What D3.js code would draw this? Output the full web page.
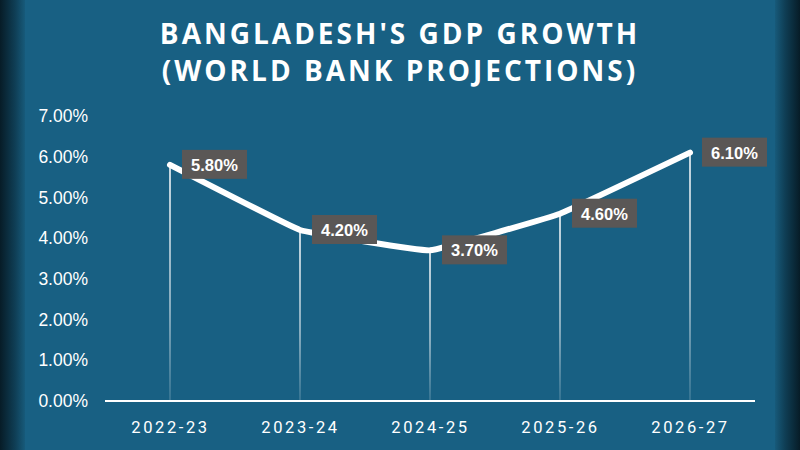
<!DOCTYPE html>
<html>
<head>
<meta charset="utf-8">
<script src="https://cdn.jsdelivr.net/npm/d3@7"></script>
<style>
  html, body { margin: 0; padding: 0; background: #186083; }
  svg { display: block; }
</style>
</head>
<body>
<svg id="chart" width="800" height="450"></svg>
<script>
const categories = ["2022-23", "2023-24", "2024-25", "2025-26", "2026-27"];
const growth = [5.8, 4.2, 3.7, 4.6, 6.1];
const yTicks = [0, 1, 2, 3, 4, 5, 6, 7];
const titleLines = ["BANGLADESH'S GDP GROWTH", "(WORLD BANK PROJECTIONS)"];

const W = 800, H = 450;
const svg = d3.select("#chart");
const defs = svg.append("defs");

// background with dark edges
const edgeL = defs.append("linearGradient").attr("id", "edgeL").attr("x1", 0).attr("x2", 1);
edgeL.append("stop").attr("offset", "0%").attr("stop-color", "#071c27");
edgeL.append("stop").attr("offset", "60%").attr("stop-color", "#0f3e55");
edgeL.append("stop").attr("offset", "100%").attr("stop-color", "#175a7a");
const edgeR = defs.append("linearGradient").attr("id", "edgeR").attr("x1", 1).attr("x2", 0);
edgeR.append("stop").attr("offset", "0%").attr("stop-color", "#071c27");
edgeR.append("stop").attr("offset", "60%").attr("stop-color", "#0f3e55");
edgeR.append("stop").attr("offset", "100%").attr("stop-color", "#175a7a");

svg.append("rect").attr("width", W).attr("height", H).attr("fill", "#186083");
svg.append("rect").attr("x", 0).attr("y", 0).attr("width", 25).attr("height", H).attr("fill", "url(#edgeL)");
svg.append("rect").attr("x", 775).attr("y", 0).attr("width", 25).attr("height", H).attr("fill", "url(#edgeR)");

// drop line gradient
const dropG = defs.append("linearGradient").attr("id", "dropG")
  .attr("gradientUnits", "objectBoundingBox").attr("x1", 0).attr("x2", 0).attr("y1", 0).attr("y2", 1);
dropG.append("stop").attr("offset", "0%").attr("stop-color", "#ffffff").attr("stop-opacity", 0.95);
dropG.append("stop").attr("offset", "60%").attr("stop-color", "#ffffff").attr("stop-opacity", 0.6);
dropG.append("stop").attr("offset", "100%").attr("stop-color", "#ffffff").attr("stop-opacity", 0.15);

// title
svg.append("g").selectAll("text").data(titleLines).join("text")
  .attr("x", 400).attr("y", (d, i) => 44 + i * 37)
  .attr("text-anchor", "middle")
  .attr("fill", "#ffffff")
  .style("font-family", "'Open Sans', 'DejaVu Sans', sans-serif")
  .style("font-weight", 700)
  .style("font-size", "28px")
  .style("letter-spacing", "3px")
  .text(d => d);

const x = d3.scalePoint().domain(categories).range([170, 690]);
const y = d3.scaleLinear().domain([0, 7]).range([401, 116]);

// y axis labels
const yAxis = d3.axisLeft(y).tickValues(yTicks).tickFormat(d => d3.format(".2f")(d) + "%").tickSize(0).tickPadding(0);
const yg = svg.append("g").attr("transform", "translate(88,0)").call(yAxis);
yg.select(".domain").remove();
yg.selectAll("text")
  .attr("fill", "#ffffff")
  .style("font-family", "'Liberation Sans', Arial, sans-serif")
  .style("font-size", "17.5px");

// x axis
const xAxis = d3.axisBottom(x).tickSize(0).tickPadding(0);
const xg = svg.append("g").attr("transform", "translate(0,401)").call(xAxis);
xg.select(".domain").remove();
xg.selectAll("text")
  .attr("fill", "#ffffff")
  .attr("dy", "0")
  .attr("y", 32)
  .style("font-family", "Roboto, 'Liberation Sans', sans-serif")
  .style("font-weight", 400)
  .style("font-size", "16.5px")
  .style("letter-spacing", "2.6px");

// drop lines
svg.append("g").selectAll("rect").data(growth).join("rect")
  .attr("x", (d, i) => x(categories[i]) - 0.8)
  .attr("y", d => y(d))
  .attr("width", 1.6)
  .attr("height", d => y(0) - y(d))
  .attr("fill", "url(#dropG)");

// baseline
svg.append("line")
  .attr("x1", 105).attr("x2", 755)
  .attr("y1", y(0)).attr("y2", y(0))
  .attr("stroke", "#ffffff").attr("stroke-width", 2);

// line
const line = d3.line()
  .x((d, i) => x(categories[i]))
  .y(d => y(d))
  .curve(d3.curveCardinal.tension(0.8));
svg.append("path").datum(growth)
  .attr("d", line)
  .attr("fill", "none")
  .attr("stroke", "#ffffff")
  .attr("stroke-width", 6)
  .attr("stroke-linecap", "round")
  .attr("stroke-linejoin", "round");

// labels
const lg = svg.append("g").selectAll("g").data(growth).join("g")
  .attr("transform", (d, i) => `translate(${x(categories[i]) + 12},${y(d)})`);
lg.append("rect")
  .attr("x", 0).attr("y", -15)
  .attr("width", 65).attr("height", 29)
  .attr("fill", "#5a5756");
lg.append("text")
  .attr("x", 32.5).attr("y", 6)
  .attr("text-anchor", "middle")
  .attr("fill", "#ffffff")
  .style("font-family", "'Liberation Sans', Arial, sans-serif")
  .style("font-weight", 700)
  .style("font-size", "16.5px")
  .text(d => d3.format(".2f")(d) + "%");
</script>
</body>
</html>
